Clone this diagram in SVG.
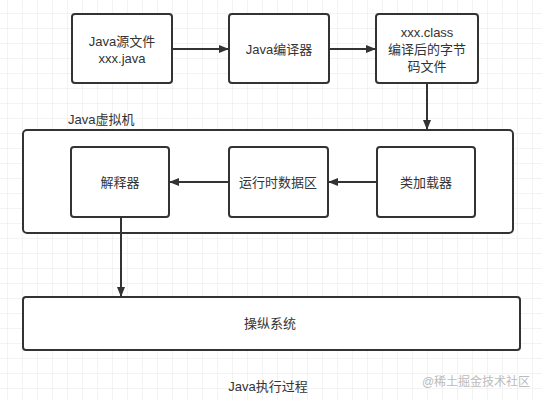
<svg xmlns="http://www.w3.org/2000/svg" width="542" height="400" viewBox="0 0 542 400">
<defs>
<pattern id="grid" x="7" y="13" width="15" height="15" patternUnits="userSpaceOnUse">
<path d="M0 0H15M0 0V15" fill="none" stroke="#e8e8e8" stroke-width="1"/>
</pattern>
<marker id="arr" markerWidth="10" markerHeight="8" refX="9" refY="4" orient="auto" markerUnits="userSpaceOnUse">
<path d="M0 0L10 4L0 8Z" fill="#333"/>
</marker>
<style>
.box{fill:#fff;stroke:#333;stroke-width:2}
.t{font-family:"Liberation Sans","Noto Sans CJK SC",sans-serif;font-size:13px;fill:#333;text-anchor:middle}
.c{fill:none;stroke:#333;stroke-width:2}
</style>
</defs>
<rect width="542" height="400" fill="#fff"/>
<rect width="542" height="400" fill="url(#grid)"/>
<g id="jvm">
<rect class="box" x="23" y="130" width="490" height="103" rx="4"/>
<text class="t" x="68" y="124" style="text-anchor:start">Java虚拟机</text>
</g>
<g id="src">
<rect class="box" x="72" y="14" width="100" height="69" rx="3"/>
<text class="t" x="122" y="46">Java源文件</text>
<text class="t" x="122" y="63">xxx.java</text>
</g>
<g id="compiler">
<rect class="box" x="229" y="14" width="100" height="69" rx="3"/>
<text class="t" x="279" y="54">Java编译器</text>
</g>
<g id="class">
<rect class="box" x="376" y="14" width="102" height="69" rx="3"/>
<text class="t" x="427" y="37">xxx.class</text>
<text class="t" x="427" y="54">编译后的字节</text>
<text class="t" x="427" y="71">码文件</text>
</g>
<g id="interp">
<rect class="box" x="71" y="147" width="98" height="70" rx="3"/>
<text class="t" x="120" y="187">解释器</text>
</g>
<g id="rtdata">
<rect class="box" x="229" y="147" width="99" height="70" rx="3"/>
<text class="t" x="278" y="187">运行时数据区</text>
</g>
<g id="loader">
<rect class="box" x="377" y="147" width="98" height="70" rx="3"/>
<text class="t" x="426" y="187">类加载器</text>
</g>
<g id="os">
<rect class="box" x="23" y="297" width="497" height="53" rx="3"/>
<text class="t" x="270" y="328">操纵系统</text>
</g>
<g id="connectors">
<line class="c" x1="172" y1="49" x2="228" y2="49" marker-end="url(#arr)"/>
<line class="c" x1="329" y1="49" x2="375" y2="49" marker-end="url(#arr)"/>
<line class="c" x1="427" y1="83" x2="427" y2="129" marker-end="url(#arr)"/>
<line class="c" x1="377" y1="182" x2="329" y2="182" marker-end="url(#arr)"/>
<line class="c" x1="229" y1="182" x2="170" y2="182" marker-end="url(#arr)"/>
<line class="c" x1="121" y1="217" x2="121" y2="296" marker-end="url(#arr)"/>
</g>
<text class="t" x="268" y="391">Java执行过程</text>
<text class="t" x="476" y="386" style="fill:#bbb;font-size:12px">@稀土掘金技术社区</text>
</svg>
